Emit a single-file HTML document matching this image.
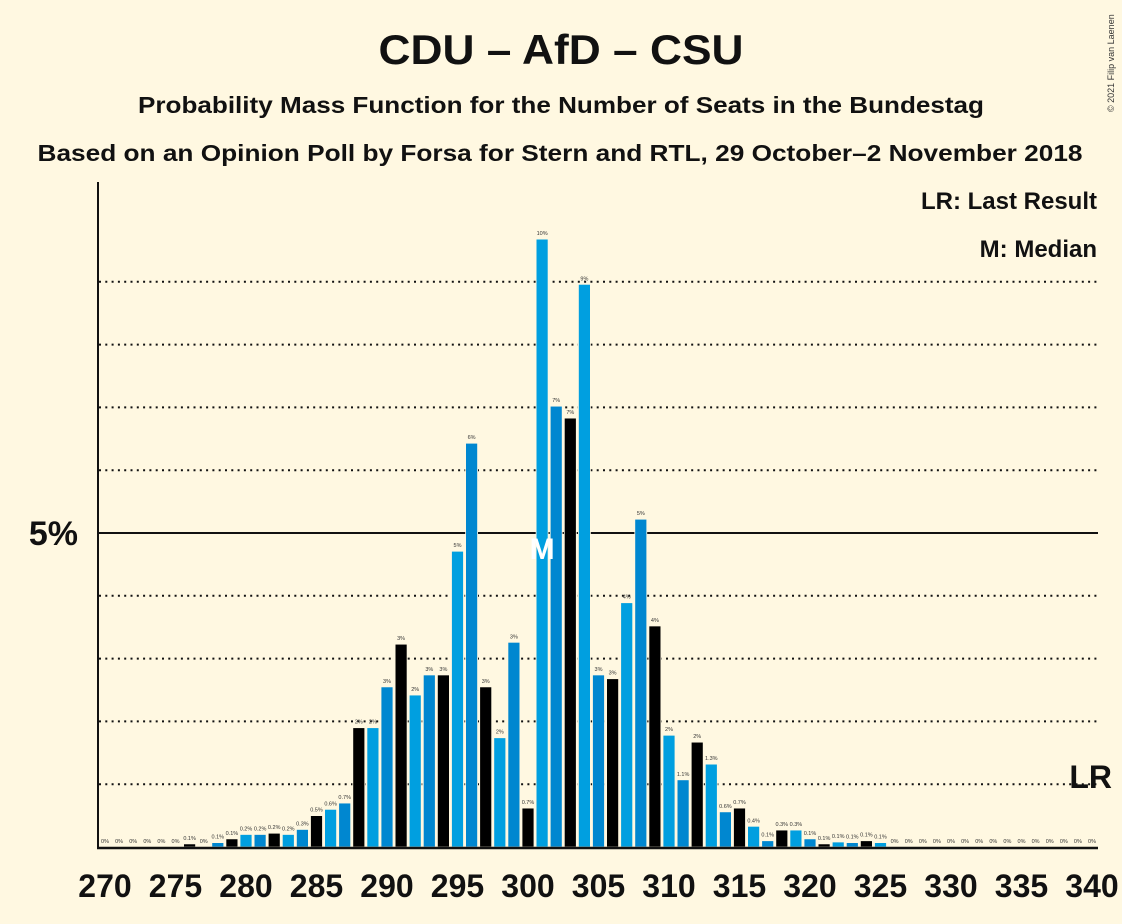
<!DOCTYPE html>
<html><head><meta charset="utf-8"><style>
body{margin:0;background:#fff8e1;}
svg{display:block;font-family:"Liberation Sans",sans-serif;}
</style></head><body>
<svg id="chart" width="1122" height="924" viewBox="0 0 1122 924">
<rect width="1122" height="924" fill="#fff8e1"/>
<text x="561" y="64" text-anchor="middle" font-size="42" font-weight="bold" fill="#111" textLength="365" lengthAdjust="spacingAndGlyphs">CDU – AfD – CSU</text>
<text x="561" y="113" text-anchor="middle" font-size="23" font-weight="bold" fill="#111" textLength="846" lengthAdjust="spacingAndGlyphs">Probability Mass Function for the Number of Seats in the Bundestag</text>
<text x="560" y="161" text-anchor="middle" font-size="23" font-weight="bold" fill="#111" textLength="1045" lengthAdjust="spacingAndGlyphs">Based on an Opinion Poll by Forsa for Stern and RTL, 29 October–2 November 2018</text>
<text x="1114" y="112" font-size="9" fill="#333" transform="rotate(-90 1114 112)">© 2021 Filip van Laenen</text>
<text x="1097" y="209" text-anchor="end" font-size="24" font-weight="bold" fill="#111">LR: Last Result</text>
<text x="1097" y="257" text-anchor="end" font-size="24" font-weight="bold" fill="#111">M: Median</text>
<g id="grid"></g><g id="bars"></g><g id="labels"></g>
<line x1="98" y1="182" x2="98" y2="849" stroke="#111" stroke-width="2"/>
<line x1="97" y1="848" x2="1098" y2="848" stroke="#111" stroke-width="2.5"/>
</svg>
<script>
const seats=[];for(let s=270;s<=340;s++)seats.push(s);
const probs=[0,0,0,0,0,0,0.05,0,0.07,0.13,0.2,0.2,0.22,0.2,0.28,0.5,0.6,0.7,1.9,1.9,2.55,3.23,2.42,2.74,2.74,4.71,6.43,2.55,1.74,3.26,0.62,9.68,7.02,6.83,8.96,2.74,2.68,3.89,5.22,3.52,1.78,1.07,1.67,1.32,0.56,0.62,0.33,0.1,0.27,0.27,0.13,0.05,0.08,0.07,0.1,0.07,0,0,0,0,0,0,0,0,0,0,0,0,0,0,0];
const valueLabels=["0%","0%","0%","0%","0%","0%","0.1%","0%","0.1%","0.1%","0.2%","0.2%","0.2%","0.2%","0.3%","0.5%","0.6%","0.7%","2%","2%","3%","3%","2%","3%","3%","5%","6%","3%","2%","3%","0.7%","10%","7%","7%","9%","3%","3%","4%","5%","4%","2%","1.1%","2%","1.3%","0.6%","0.7%","0.4%","0.1%","0.3%","0.3%","0.1%","0.1%","0.1%","0.1%","0.1%","0.1%","0%","0%","0%","0%","0%","0%","0%","0%","0%","0%","0%","0%","0%","0%","0%"];
const gridLevels=[1,2,3,4,6,7,8,9];
const tickSeats=[270,275,280,285,290,295,300,305,310,315,320,325,330,335,340];
const medianSeat=301, lastResultSeat=340;
const NS="http://www.w3.org/2000/svg";
const xS=s=>105+(s-270)*14.1;
const yS=p=>847-p*62.8;
function mk(t,a,p){const e=document.createElementNS(NS,t);for(const k in a)e.setAttribute(k,a[k]);p.appendChild(e);return e;}
const G=document.getElementById('grid'),B=document.getElementById('bars'),L=document.getElementById('labels');
gridLevels.forEach(v=>{const l=mk('line',{x1:99,x2:1098,y1:yS(v),y2:yS(v),stroke:'#111','stroke-width':2,'stroke-dasharray':'2 4.3'},G);

});
const l5=mk('line',{x1:99,x2:1098,y1:yS(5),y2:yS(5),stroke:'#111','stroke-width':2},G);


const t5=mk('text',{x:78,y:yS(5)+12,'text-anchor':'end','font-size':34,'font-weight':'bold',fill:'#111'},G);t5.textContent='5%';


const cols={1:'#009fe0',2:'#0087d0',0:'#000'};
seats.forEach((s,i)=>{const p=probs[i];const x=xS(s);
 if(p>0){const r=mk('rect',{x:x-6,y:yS(p),width:12,height:847-yS(p),fill:cols[s%3],stroke:'#fff8e1','stroke-width':0.8},B);
 
 }
 const t=mk('text',{x:x,y:yS(p)-4,'text-anchor':'middle','font-size':5.5,fill:'#333'},L);t.textContent=valueLabels[i];
 
 
});
tickSeats.forEach(s=>{const t=mk('text',{x:xS(s),y:897,'text-anchor':'middle','font-size':32,'font-weight':'bold',fill:'#111'},L);t.textContent=s;

});
const m=mk('text',{x:xS(medianSeat),y:559,'text-anchor':'middle','font-size':30,'font-weight':'bold',fill:'#fff'},L);m.textContent='M';


const lr=mk('text',{x:xS(lastResultSeat)+20,y:788,'text-anchor':'end','font-size':32,'font-weight':'bold',fill:'#111'},L);lr.textContent='LR';


</script>
</body></html>
